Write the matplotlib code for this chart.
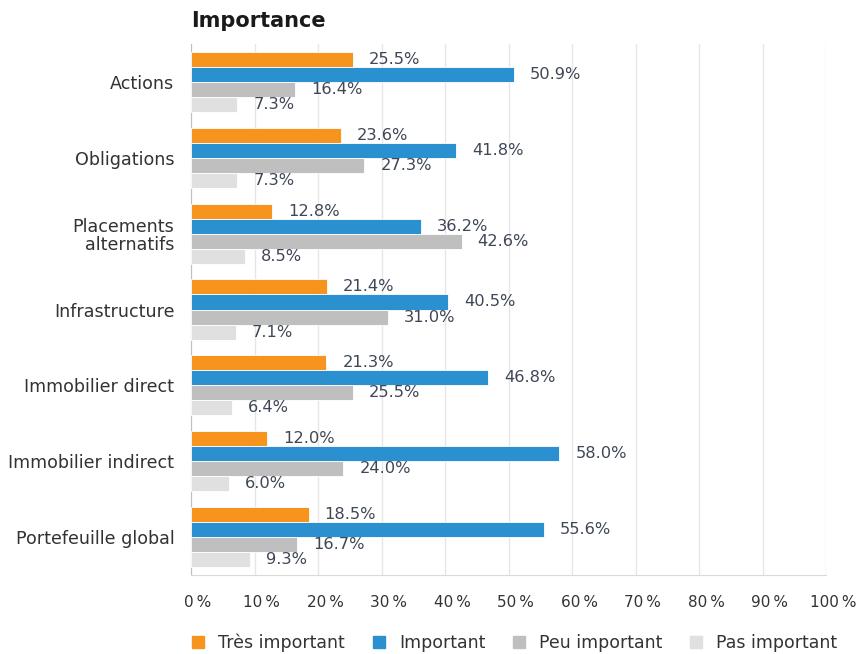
import numpy as np
import matplotlib
matplotlib.use("Agg")
import matplotlib.pyplot as plt
import matplotlib.transforms as mtransforms
from matplotlib.lines import Line2D

categories = ["Actions", "Obligations", "Placements\nalternatifs", "Infrastructure",
              "Immobilier direct", "Immobilier indirect", "Portefeuille global"]
series_names = ["Très important", "Important", "Peu important", "Pas important"]
tres_important = [25.5, 23.6, 12.8, 21.4, 21.3, 12.0, 18.5]
important = [50.9, 41.8, 36.2, 40.5, 46.8, 58.0, 55.6]
peu_important = [16.4, 27.3, 42.6, 31.0, 25.5, 24.0, 16.7]
pas_important = [7.3, 7.3, 8.5, 7.1, 6.4, 6.0, 9.3]
tick_labels = ["0\u2009%", "10\u2009%", "20\u2009%", "30\u2009%", "40\u2009%", "50\u2009%",
               "60\u2009%", "70\u2009%", "80\u2009%", "90\u2009%", "100\u2009%"]

colors = ["#F7941D", "#2B90D0", "#BFBFBF", "#E0E0E0"]
text_col = "#333333"
lab_col = "#3F4756"

plt.rcParams['font.family'] = ['DejaVu Sans']

fig = plt.figure(figsize=(8.59, 6.54), dpi=100)
ax = fig.add_axes([0.2224, 0.1208, 0.7392, 0.8119])

n = len(categories)
y = np.arange(n)
h = 0.198
data = [tres_important, important, peu_important, pas_important]
for k, vals in enumerate(data):
    pos = y - 1.5 * h + k * h
    ax.barh(pos, vals, height=h, color=colors[k], edgecolor="white", linewidth=0.6, zorder=3)
    for p, v in zip(pos, vals):
        ax.annotate(f"{v:.1f}%", (v, p), xytext=(11.5, 0), textcoords="offset points",
                    va="center", ha="left", fontsize=11.7, color=lab_col)

ax.set_ylim(n - 0.5, -0.5)
ax.set_yticks(y)
ax.set_yticklabels(categories, fontsize=12.6, color=text_col, linespacing=1.05)
ax.set_xlim(0, 100)
ax.set_xticks(np.arange(0, 101, 10))
ax.set_xticklabels(tick_labels, fontsize=11, color=text_col)
ax.tick_params(axis="y", length=0, pad=12)
ax.tick_params(axis="x", length=0, pad=14.5)
shift = mtransforms.ScaledTranslation(7 / 100, 0, fig.dpi_scale_trans)
for lab in ax.get_xticklabels():
    lab.set_transform(lab.get_transform() + shift)
ax.grid(axis="x", color="#E6E6E6", linewidth=1, zorder=0)
for s in ["top", "right"]:
    ax.spines[s].set_visible(False)
ax.spines["left"].set_color("#BFBFBF")
ax.spines["bottom"].set_color("#D9D9D9")

fig.text(0.2224, 0.968, "Importance", fontsize=15, fontweight="bold", color="#1a1a1a",
         ha="left", va="center")

handles = [Line2D([0], [0], marker="s", linestyle="", markersize=8, color=c) for c in colors]
fig.legend(handles, series_names, loc="center", bbox_to_anchor=(0.5995, 0.017), ncol=4,
           frameon=False, fontsize=12.5, handlelength=0.7, handletextpad=0.8,
           columnspacing=1.6, labelcolor=text_col, borderpad=0.2)

fig.savefig("out.png", dpi=100)
